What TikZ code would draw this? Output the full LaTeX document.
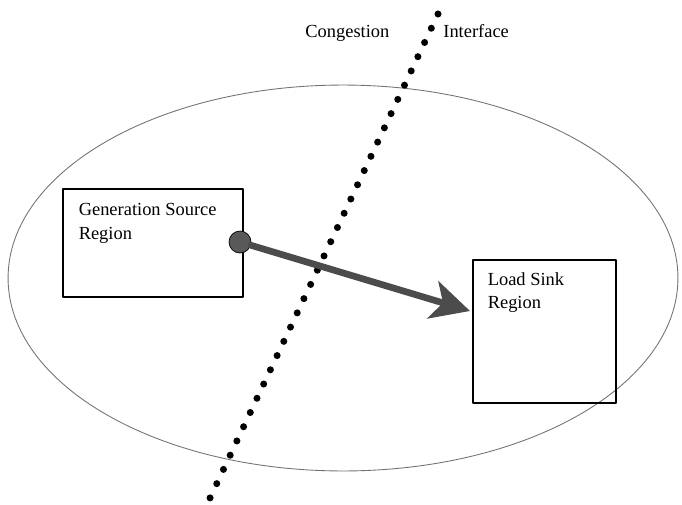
\documentclass[tikz,border=0pt]{standalone}
\usepackage{fontspec}
\setmainfont{Liberation Serif}
\usepackage{tikz}
\usetikzlibrary{arrows.meta,positioning,shapes.geometric}
\tikzset{
  every picture/.append style={line cap=round,line join=round},
  grid region/.style={ellipse,draw=black!55,line width=0.5pt,minimum width=13.4cm,minimum height=7.72cm},
  grid box/.style={draw,line width=0.7pt,inner sep=0pt},
  grid label/.style={font=\fontsize{10.5}{13.5}\selectfont,align=left,inner sep=0pt},
  grid cut/.style={line width=4pt,dash pattern=on 0pt off 0.3147cm,line cap=round},
  grid port/.style={circle,draw=black,fill=black!65,inner sep=0pt,minimum size=0.44cm},
  grid flow/.style={black!70,line width=3.8pt,-{Stealth[length=22pt,width=22pt,inset=6pt]}}
}

\begin{document}
\begin{tikzpicture}[x=0.02cm,y=-0.02cm]
\useasboundingbox (0,0) rectangle (682,504);
\node[grid region] (area) at (343,278) {};
% congestion interface
\coordinate (cuttop) at (438,14);
\coordinate (cutbot) at (210,498);
\draw[grid cut] (cuttop) -- (cutbot);
\node[grid label,anchor=base west] (conglbl) at (305,37) {Congestion};
\node[grid label,anchor=base west] (intflbl) at (443,37) {Interface};
% regions
\node[grid box,minimum width=3.6cm,minimum height=2.16cm] (srcbox) at (153,243) {};
\node[grid label,below right=0.3cm and 0.32cm of srcbox.north west,anchor=north west] (srclbl) {Generation Source\\Region};
\node[grid box,minimum width=2.86cm,minimum height=2.86cm] (sinkbox) at (544.5,331.5) {};
\node[grid label,below right=0.25cm and 0.3cm of sinkbox.north west,anchor=north west] (sinklbl) {Load Sink\\Region};
% flow
\coordinate (tip) at (470,311);
\node[grid port] (port) at (240,242) {};
\draw[grid flow] (port) -- (tip);
\end{tikzpicture}
\end{document}
